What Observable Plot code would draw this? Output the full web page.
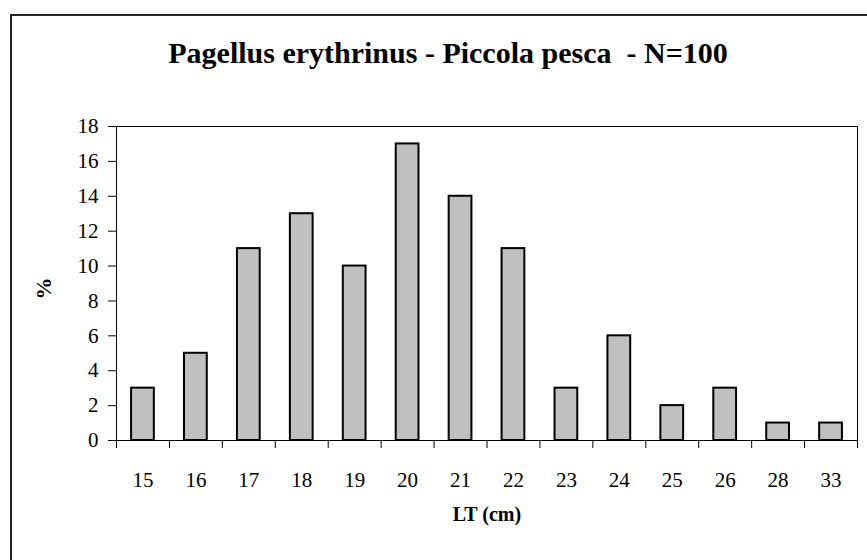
<!DOCTYPE html>
<html>
<head>
<meta charset="utf-8">
<script src="https://cdn.jsdelivr.net/npm/d3@7"></script>
<script src="https://cdn.jsdelivr.net/npm/@observablehq/plot@0.6"></script>
<style>
  html, body { margin: 0; padding: 0; background: #fff; overflow: hidden; }
  #wrap { position: relative; width: 867px; height: 560px; overflow: hidden; }
  #border { position: absolute; left: 10px; top: 14px; width: 900px; height: 600px;
            border-left: 2px solid #222; border-top: 2px solid #222; box-sizing: border-box; }
  #chart { position: absolute; left: 0; top: 0; }
</style>
</head>
<body>
<div id="wrap"><div id="border"></div><div id="chart"></div></div>
<script>
// Data
const categories = ["15", "16", "17", "18", "19", "20", "21", "22", "23", "24", "25", "26", "28", "33"];
const percents   = [3, 5, 11, 13, 10, 17, 14, 11, 3, 6, 2, 3, 1, 1];
const yTicks     = [0, 2, 4, 6, 8, 10, 12, 14, 16, 18];
const titleText  = "Pagellus erythrinus - Piccola pesca  - N=100";
const xLabel     = "LT (cm)";
const yLabel     = "%";

const data = categories.map((c, i) => ({lt: c, pct: percents[i]}));

const W = 867, H = 560;
const mL = 116, mR = 10, mT = 126, mB = 120;
const step = (W - mL - mR) / categories.length;
const font = "'Liberation Serif', 'Times New Roman', serif";

const chart = Plot.plot({
  width: W,
  height: H,
  marginLeft: mL,
  marginRight: mR,
  marginTop: mT,
  marginBottom: mB,
  style: {fontFamily: font, fontSize: "20px", color: "#000", background: "transparent", overflow: "visible"},
  x: {type: "band", domain: categories, paddingInner: 0.57, paddingOuter: 0.285, round: false, axis: null},
  y: {domain: [0, 18], axis: null},
  marks: [
    Plot.barY(data, {x: "lt", y: "pct", fill: "#c0c0c0", stroke: "#000", strokeWidth: 2}),
    Plot.frame({stroke: "#000", strokeWidth: 1}),
    Plot.axisY({ticks: yTicks, tickSize: 8, tickPadding: 10, fontSize: 21, label: null, stroke: "#000"}),
    Plot.axisX({tickSize: 0, tickPadding: 32, fontSize: 21, label: null}),
    Plot.axisX({tickSize: 8, tickFormat: () => "", dx: -step / 2, label: null, stroke: "#000"}),
    Plot.axisX({ticks: [categories[categories.length - 1]], tickSize: 8, tickFormat: () => "", dx: step / 2, label: null, stroke: "#000"}),
    Plot.text([titleText], {text: d => d, frameAnchor: "top", dx: -39, dy: -64, lineAnchor: "bottom",
      fontSize: 30, fontWeight: "bold", fill: "#000"}),
    Plot.text([xLabel], {text: d => d, frameAnchor: "bottom", dy: 80, fontSize: 20, fontWeight: "bold", fill: "#000"}),
    Plot.text([yLabel], {text: d => d, frameAnchor: "left", dx: -73, dy: 16, rotate: -90, fontSize: 22, fontWeight: "bold", fill: "#000"})
  ]
});
document.getElementById("chart").appendChild(chart);
</script>
</body>
</html>
